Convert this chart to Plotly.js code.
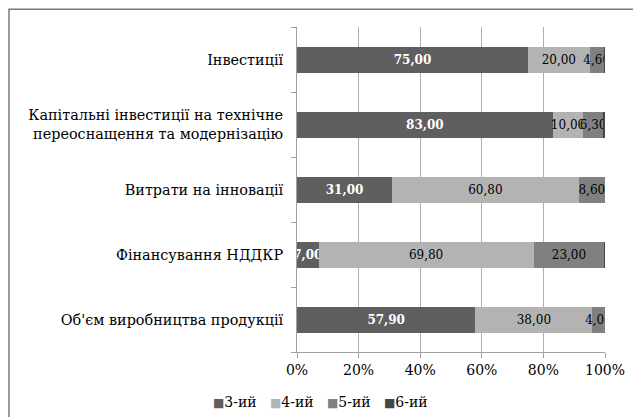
<!DOCTYPE html>
<html>
<head>
<meta charset="utf-8">
<script src="https://cdn.plot.ly/plotly-3.0.1.min.js"></script>
<style>html,body{margin:0;padding:0;background:#fff;}#chart{width:633px;height:417px;}</style>
</head>
<body>
<div id="chart"></div>
<script>
const categories = [
  "Об'єм виробництва продукції",
  "Фінансування НДДКР",
  "Витрати на інновації",
  "Капітальні інвестиції на технічне<br>переоснащення та модернізацію",
  "Інвестиції"
];
const seriesNames = ["3-ий", "4-ий", "5-ий", "6-ий"];
const s3 = [57.9, 7.0, 31.0, 83.0, 75.0];
const s4 = [38.0, 69.8, 60.8, 10.0, 20.0];
const s5 = [4.0, 23.0, 8.6, 6.3, 4.6];
const s6 = [0.1, 0.2, 0.0, 0.7, 0.4];
const colors = ["#5f5f5f", "#b3b3b3", "#808080", "#454545"];

const fmt = v => v.toFixed(2).replace('.', ',');
const font = "DejaVu Serif";

function tr(vals, i, showText, bold, white) {
  return {
    type: 'bar', orientation: 'h', name: seriesNames[i],
    y: categories, x: vals,
    marker: {color: colors[i]},
    text: showText ? vals.map(v => bold ? '<b>' + fmt(v) + '</b>' : fmt(v)) : null,
    textposition: showText ? 'inside' : 'none',
    insidetextanchor: 'middle',
    constraintext: 'none',
    textangle: 0,
    textfont: {family: font, size: 12, color: white ? '#ffffff' : '#000000'},
    hoverinfo: 'x+name',
    showlegend: false
  };
}

const data = [
  tr(s3, 0, true, true, true),
  tr(s4, 1, true, false, false),
  tr(s5, 2, true, false, false),
  tr(s6, 3, false, false, false)
];

const legendText = seriesNames.map((n, i) =>
  '<span style="color:' + colors[i] + ';font-size:12px">■</span>' + n).join('&nbsp;&nbsp;&nbsp;');

const layout = {
  width: 633, height: 417,
  margin: {l: 297, r: 28, t: 27, b: 65, pad: 0},
  barmode: 'stack', barnorm: 'percent', bargap: 0.6,
  paper_bgcolor: '#fff', plot_bgcolor: '#fff',
  font: {family: font, size: 14, color: '#000'},
  xaxis: {
    range: [0, 100], dtick: 20, ticksuffix: '%',
    showgrid: true, gridcolor: '#b0b0b0', gridwidth: 1,
    ticks: 'outside', ticklen: 5, tickcolor: '#a0a0a0',
    showline: true, linecolor: '#a0a0a0', linewidth: 1,
    zeroline: false, fixedrange: true,
    tickfont: {family: font, size: 14, color: '#000'}
  },
  yaxis: {
    type: 'category', tickson: 'boundaries',
    ticks: 'outside', ticklen: 5, tickcolor: '#a0a0a0',
    showline: true, linecolor: '#a0a0a0', linewidth: 1,
    showgrid: false, zeroline: false, fixedrange: true,
    ticklabelstandoff: 10,
    tickfont: {family: font, size: 14.4, color: '#000'}
  },
  annotations: [{
    xref: 'paper', yref: 'paper', x: (320 - 297) / 308, y: (352 - 402) / 325,
    xanchor: 'center', yanchor: 'middle', showarrow: false,
    text: legendText, font: {family: font, size: 14, color: '#000'}
  }],
  shapes: [{
    type: 'rect', xref: 'paper', yref: 'paper',
    x0: -0.935, x1: 1.3, y0: -0.4, y1: 1.055,
    line: {color: '#7a7a7a', width: 1.5}, fillcolor: 'rgba(0,0,0,0)', layer: 'above'
  }],
  showlegend: false
};

Plotly.newPlot('chart', data, layout, {displayModeBar: false, staticPlot: true});
</script>
</body>
</html>
